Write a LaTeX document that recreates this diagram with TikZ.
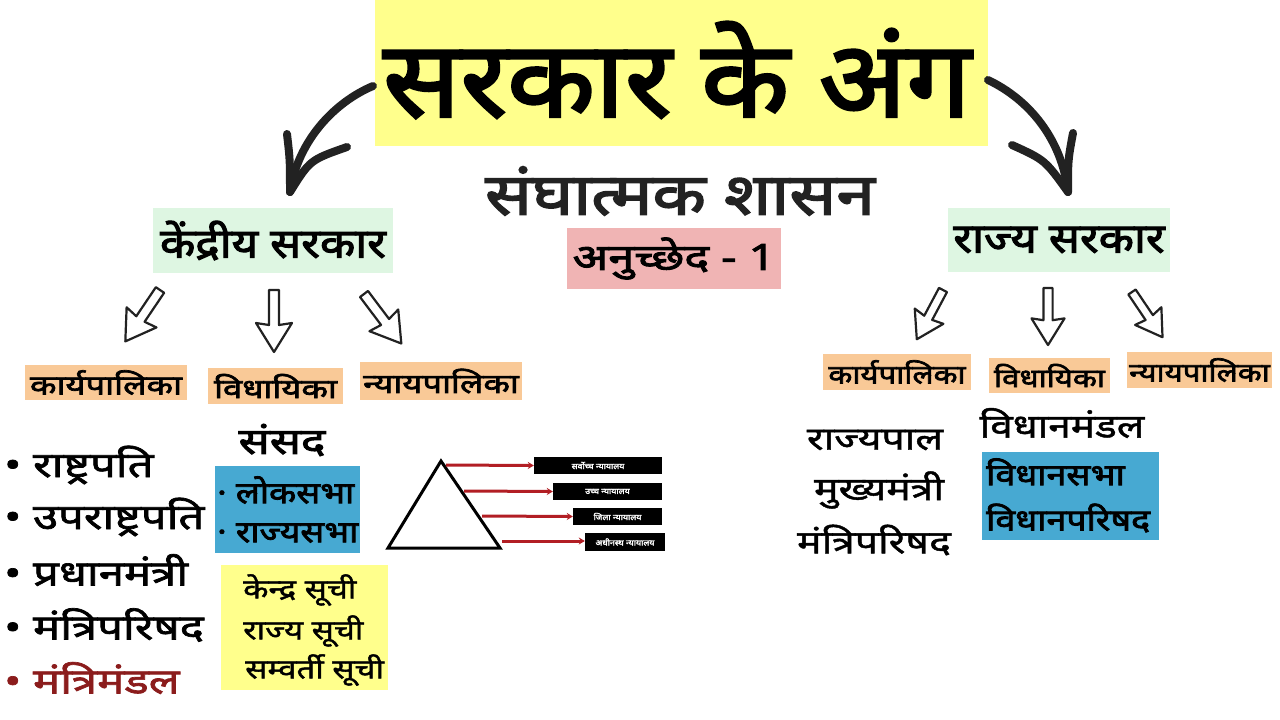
\documentclass[tikz,border=0pt]{standalone}
\usepackage{fontspec}
\newfontfamily\devR[Script=Devanagari]{Noto Sans}
\newfontfamily\devM[Script=Devanagari,FakeBold=1.4]{Noto Sans}
\newfontfamily\devN[Script=Devanagari,FakeBold=2]{Noto Sans}
\newfontfamily\devB[Script=Devanagari,FakeBold=2.6]{Noto Sans}
\usetikzlibrary{arrows.meta}
\definecolor{ttlyellow}{HTML}{FFFF8C}
\definecolor{lgreen}{HTML}{DEF6E2}
\definecolor{pinkc}{HTML}{F0B4B4}
\definecolor{peach}{HTML}{F9C997}
\definecolor{bluec}{HTML}{47A9D2}
\definecolor{darkred}{HTML}{8B1C1C}
\definecolor{redline}{HTML}{B21E24}
\definecolor{ink}{HTML}{222222}
\tikzset{
  fr/.style 2 args={font=\devR\addfontfeatures{FakeStretch=#2}\fontsize{#1}{#1}\selectfont},
  fm/.style 2 args={font=\devM\addfontfeatures{FakeStretch=#2}\fontsize{#1}{#1}\selectfont},
  fn/.style 2 args={font=\devN\addfontfeatures{FakeStretch=#2}\fontsize{#1}{#1}\selectfont},
  fb/.style 2 args={font=\devB\addfontfeatures{FakeStretch=#2}\fontsize{#1}{#1}\selectfont},
  box/.style={inner sep=0pt, text=black},
  brush/.style={draw=ink, line width=8, line cap=round, line join=round},
  hollow/.pic={\draw[line width=2.2, line join=round, fill=white, draw=ink]
     (-5,0) -- (5,0) -- (5,35) -- (18,33) -- (0,62) -- (-18,33) -- (-5,35) -- cycle;},
  jbox/.style={fill=black, text=white, inner sep=0pt, minimum height=17, fb={8}{1.1}},
  rl/.style={draw=redline, line width=3, -{Stealth[length=6,width=7]}},
  itm/.style={anchor=west, inner sep=0pt, fn={35}{1.3}},
  lft/.style={anchor=west, inner sep=0pt},
}
\begin{document}
\begin{tikzpicture}[x=1pt,y=-1pt]
\useasboundingbox[fill=white] (0,0) rectangle (1280,720);

% title
\node[box, fill=ttlyellow, minimum width=613, minimum height=146] (title) at (681.5,73) {};
\node[box, fb={106}{1.08}] (ttxt) at (677,70) {सरकार के अंग};
\node[box, fb={58}{1.2}, text=ink] (sub) at (680,191) {संघात्मक शासन};
\node[box, fill=pinkc, minimum width=214, minimum height=61, fb={36}{1.3}] (anu) at (674,258.5) {अनुच्छेद - 1};

% central / state government
\node[box, fill=lgreen, minimum width=240, minimum height=65, fb={41}{1.12}] (ks) at (273,240.5) {केंद्रीय सरकार};
\node[box, fill=lgreen, minimum width=222, minimum height=64, fb={41}{1.12}] (rs) at (1059,240) {राज्य सरकार};

% brush arrows
\coordinate (la0) at (373,86);
\coordinate (lat) at (290,192);
\draw[brush] (la0) .. controls (335,102) and (298,140) .. (lat);
\draw[brush] (287,134) .. controls (290,160) .. (lat) .. controls (310,160) .. (347,147);
\coordinate (ra0) at (988,80);
\coordinate (rat) at (1068,192);
\draw[brush] (ra0) .. controls (1030,100) and (1062,140) .. (rat);
\draw[brush] (1073,133) .. controls (1068,160) .. (rat) .. controls (1045,160) .. (1012,145);

% hollow arrows left
\pic[rotate=-34] at (160,290) {hollow};
\pic at (274,290) {hollow};
\pic[rotate=37] at (364,294) {hollow};
% hollow arrows right
\pic[rotate=-28, scale=0.9] at (943,290) {hollow};
\pic[scale=0.92] at (1048,288) {hollow};
\pic[rotate=34, scale=0.88] at (1132,292) {hollow};

% branch labels
\node[box, fill=peach, minimum width=162, minimum height=35, fb={27}{1.28}] (lk) at (106,382.5) {कार्यपालिका};
\node[box, fill=peach, minimum width=135, minimum height=36, fb={27}{1.28}] (lv) at (275.5,386) {विधायिका};
\node[box, fill=peach, minimum width=162, minimum height=38, fb={27}{1.28}] (ln) at (441,381) {न्यायपालिका};
\node[box, fill=peach, minimum width=148, minimum height=36, fb={26}{1.2}] (rk) at (897,372) {कार्यपालिका};
\node[box, fill=peach, minimum width=121, minimum height=35, fb={26}{1.2}] (rv) at (1049.5,375.5) {विधायिका};
\node[box, fill=peach, minimum width=145, minimum height=36, fb={26}{1.2}] (rn) at (1199.5,370) {न्यायपालिका};

% left executive list
\node[itm] (e1) at (4,465) {• राष्ट्रपति};
\node[itm] (e2) at (4,517) {• उपराष्ट्रपति};
\node[itm] (e3) at (4,570) {• प्रधानमंत्री};
\node[itm] (e4) at (4,625) {• मंत्रिपरिषद};
\node[itm, text=darkred] (e5) at (4,678) {• मंत्रिमंडल};

% parliament
\node[box, fb={36}{1.28}] (sansad) at (282,440) {संसद};
\node[box, fill=bluec, minimum width=145, minimum height=87] (lsb) at (287.5,509.5) {};
\node[lft, fb={30}{1.18}] (ls) at (217,490) {· लोकसभा};
\node[lft, fb={30}{1.18}] (rsb) at (217,533) {· राज्यसभा};
\node[box, fill=ttlyellow, minimum width=167, minimum height=125] (lists) at (304.5,627.5) {};
\node[lft, fm={27}{1.22}] (l1) at (243,590) {केन्द्र सूची};
\node[lft, fm={27}{1.22}] (l2) at (243,631) {राज्य सूची};
\node[lft, fm={27}{1.22}] (l3) at (245,670) {सम्वर्ती सूची};

% judiciary pyramid
\coordinate (apex) at (441,461);
\coordinate (bl) at (388,548);
\coordinate (br) at (500,548);
\draw[line width=3, line join=miter, draw=black] (apex) -- (br) -- (bl) -- cycle;
\node[jbox, minimum width=128] (j1) at (598,465.5) {सर्वोच्च न्यायालय};
\node[jbox, minimum width=109] (j2) at (607.5,491.5) {उच्च न्यायालय};
\node[jbox, minimum width=89] (j3) at (617.5,516.5) {जिला न्यायालय};
\node[jbox, minimum width=80, minimum height=18] (j4) at (625,542) {अधीनस्थ न्यायालय};
\coordinate (p1) at (446,465);
\coordinate (p2) at (464,491);
\coordinate (p3) at (482,516);
\coordinate (p4) at (502,541);
\draw[rl] (p1) -- (j1.west);
\draw[rl] (p2) -- (j2.west);
\draw[rl] (p3) -- (j3.west);
\draw[rl] (p4) -- ([yshift=1]j4.west);

% right side
\node[box, fm={32}{1.28}] (r1) at (875,440) {राज्यपाल};
\node[box, fm={32}{1.28}] (r2) at (879,490) {मुख्यमंत्री};
\node[box, fm={32}{1.28}] (r3) at (874,540) {मंत्रिपरिषद};
\node[box, fm={33}{1.23}] (vm) at (1062,423) {विधानमंडल};
\node[box, fill=bluec, minimum width=177, minimum height=88] (vbox) at (1070.5,496) {};
\node[lft, fb={30}{1.19}] (vs) at (986,472) {विधानसभा};
\node[lft, fb={30}{1.19}] (vp) at (986,518) {विधानपरिषद};
\end{tikzpicture}
\end{document}
